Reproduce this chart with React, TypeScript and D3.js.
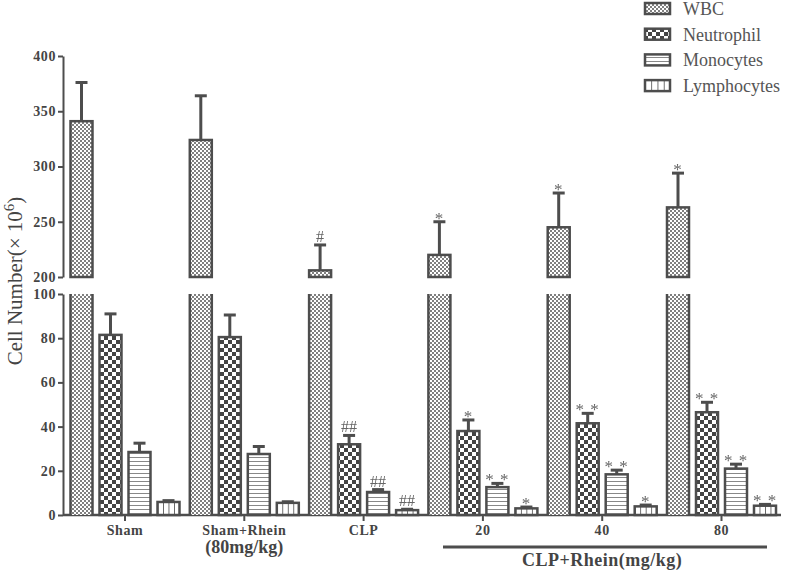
import React, { useEffect, useRef } from "react";
import * as d3 from "d3";

// data
const groups = ["Sham", "Sham+Rhein", "CLP", "20", "40", "80"];
const series = ["WBC", "Neutrophil", "Monocytes", "Lymphocytes"];
const wbcMean = [341, 324, 206, 220, 245, 263];
const wbcErr = [35, 40, 23, 30, 31, 31];
const neuMean = [81.5, 80.5, 32, 38, 41.5, 46.5];
const neuErr = [9.5, 10, 4, 5, 4.5, 4.5];
const monoMean = [28.5, 27.6, 10.4, 12.6, 18.4, 21];
const monoErr = [4, 3.4, 1.1, 1.7, 1.9, 2];
const lymMean = [5.9, 5.5, 2.2, 3, 3.9, 4.2];
const lymErr = [0.6, 0.5, 0.4, 0.6, 0.6, 0.6];
const wbcMarks = ["", "", "#", "*", "*", "*"];
const neuMarks = ["", "", "##", "*", "**", "**"];
const monoMarks = ["", "", "##", "**", "**", "**"];
const lymMarks = ["", "", "##", "*", "*", "**"];
const topTicks = [200, 250, 300, 350, 400];
const botTicks = [0, 20, 40, 60, 80, 100];

const W = 787;
const H = 571;
const INK = "#4d4d4d";
const SERIF = "'Liberation Serif', 'DejaVu Serif', serif";

const App = () => {
  const svgRef = useRef<SVGSVGElement>(null);

  useEffect(() => {
    const svg = d3.select(svgRef.current);
    svg.selectAll("*").remove();

    const axisX = 63;
    const yTop = d3.scaleLinear().domain([200, 400]).range([277, 56]);
    const yBot = d3.scaleLinear().domain([0, 100]).range([515, 294]);
    const xGroup = d3.scaleBand().domain(groups).range([65.35, 781.15]).padding(0);
    const xSeries = d3
      .scaleBand()
      .domain(series)
      .range([-54.5, 54.5])
      .paddingInner(7 / 29)
      .paddingOuter(0);
    const bw = xSeries.bandwidth();
    const cx = (g: string) => (xGroup(g) as number) + xGroup.bandwidth() / 2;

    // patterns
    const defs = svg.append("defs");
    const pW = defs.append("pattern").attr("id", "pWBC").attr("patternUnits", "userSpaceOnUse")
      .attr("width", 4).attr("height", 4);
    pW.append("rect").attr("width", 4).attr("height", 4).attr("fill", "#fff");
    pW.append("rect").attr("width", 2).attr("height", 2).attr("fill", "#808080");
    pW.append("rect").attr("x", 2).attr("y", 2).attr("width", 2).attr("height", 2).attr("fill", "#808080");

    const pN = defs.append("pattern").attr("id", "pNeu").attr("patternUnits", "userSpaceOnUse")
      .attr("width", 8).attr("height", 8);
    pN.append("rect").attr("width", 8).attr("height", 8).attr("fill", "#fff");
    pN.append("rect").attr("width", 4).attr("height", 4).attr("fill", "#444");
    pN.append("rect").attr("x", 4).attr("y", 4).attr("width", 4).attr("height", 4).attr("fill", "#444");

    const pM = defs.append("pattern").attr("id", "pMono").attr("patternUnits", "userSpaceOnUse")
      .attr("width", 4).attr("height", 4);
    pM.append("rect").attr("width", 4).attr("height", 4).attr("fill", "#fff");
    pM.append("rect").attr("y", 1).attr("width", 4).attr("height", 1).attr("fill", "#888");

    const pL = defs.append("pattern").attr("id", "pLym").attr("patternUnits", "objectBoundingBox")
      .attr("width", 0.25).attr("height", 1);
    pL.append("rect").attr("width", 40).attr("height", 600).attr("fill", "#fff");
    pL.append("rect").attr("x", -0.75).attr("width", 1.6).attr("height", 600).attr("fill", "#555");

    const fills = ["url(#pWBC)", "url(#pNeu)", "url(#pMono)", "url(#pLym)"];

    // y axes (broken)
    const styleAxis = (g: any) => {
      g.selectAll("path, line").attr("stroke", INK).attr("stroke-width", 2);
      g.selectAll("text")
        .attr("fill", "#444")
        .attr("font-family", SERIF)
        .attr("font-weight", "bold")
        .attr("font-size", 14)
        .attr("letter-spacing", 0.6);
    };
    svg.append("g").attr("transform", `translate(${axisX},0)`)
      .call(d3.axisLeft(yTop).tickValues(topTicks).tickSize(5).tickSizeOuter(0).tickPadding(2))
      .call(styleAxis);
    svg.append("g").attr("transform", `translate(${axisX},0)`)
      .call(d3.axisLeft(yBot).tickValues(botTicks).tickSize(5).tickSizeOuter(0).tickPadding(2))
      .call(styleAxis);

    // x axis
    const xa = svg.append("g").attr("transform", "translate(0,515)")
      .call(d3.axisBottom(xGroup).tickSize(6).tickSizeOuter(0).tickFormat(() => ""));
    xa.select(".domain").remove();
    xa.selectAll("line").attr("stroke", INK).attr("stroke-width", 2);
    svg.append("line").attr("x1", axisX).attr("x2", 781).attr("y1", 515).attr("y2", 515)
      .attr("stroke", INK).attr("stroke-width", 2.5);

    const bars = svg.append("g");
    const notes = svg.append("g").attr("font-family", SERIF).attr("fill", "#666")
      .style("filter", "grayscale(1)");

    const errBar = (x: number, yv: number, ye: number) => {
      bars.append("line").attr("x1", x).attr("x2", x).attr("y1", yv).attr("y2", ye)
        .attr("stroke", INK).attr("stroke-width", 3);
      bars.append("line").attr("x1", x - 6).attr("x2", x + 6).attr("y1", ye).attr("y2", ye)
        .attr("stroke", INK).attr("stroke-width", 3);
    };
    const note = (x: number, ye: number, s: string) => {
      if (!s) return;
      const star = s.startsWith("*");
      notes.append("text")
        .attr("x", x)
        .attr("y", star ? ye + 2 : ye - 3)
        .attr("text-anchor", "middle")
        .attr("font-size", star ? 17 : 16)
        .attr("letter-spacing", star ? 1 : 0)
        .text(star ? s.split("").join(" ") : s);
    };

    groups.forEach((g, i) => {
      const c = cx(g);
      // WBC, broken bar
      const xw = c + (xSeries("WBC") as number);
      bars.append("rect").attr("x", xw).attr("y", yBot(100)).attr("width", bw)
        .attr("height", yBot(0) - yBot(100)).attr("fill", fills[0]);
      [xw, xw + bw].forEach((lx) =>
        bars.append("line").attr("x1", lx).attr("x2", lx).attr("y1", yBot(100)).attr("y2", yBot(0))
          .attr("stroke", INK).attr("stroke-width", 2.5));
      bars.append("rect").attr("x", xw).attr("y", yTop(wbcMean[i])).attr("width", bw)
        .attr("height", yTop(200) - yTop(wbcMean[i])).attr("fill", fills[0])
        .attr("stroke", INK).attr("stroke-width", 2.5);
      errBar(xw + bw / 2, yTop(wbcMean[i]), yTop(wbcMean[i] + wbcErr[i]));
      note(xw + bw / 2, yTop(wbcMean[i] + wbcErr[i]), wbcMarks[i]);

      const rest = [
        { s: "Neutrophil", m: neuMean[i], e: neuErr[i], k: neuMarks[i], f: fills[1] },
        { s: "Monocytes", m: monoMean[i], e: monoErr[i], k: monoMarks[i], f: fills[2] },
        { s: "Lymphocytes", m: lymMean[i], e: lymErr[i], k: lymMarks[i], f: fills[3] },
      ];
      rest.forEach((d) => {
        const x = c + (xSeries(d.s) as number);
        bars.append("rect").attr("x", x).attr("y", yBot(d.m)).attr("width", bw)
          .attr("height", yBot(0) - yBot(d.m)).attr("fill", d.f)
          .attr("stroke", INK).attr("stroke-width", 2.5);
        errBar(x + bw / 2, yBot(d.m), yBot(d.m + d.e));
        note(x + bw / 2, yBot(d.m + d.e), d.k);
      });
    });

    // x labels
    const lab = svg.append("g").attr("font-family", SERIF).attr("font-weight", "bold")
      .attr("fill", "#444").attr("text-anchor", "middle");
    groups.forEach((g) => {
      lab.append("text").attr("x", cx(g)).attr("y", 535).attr("font-size", 14)
        .attr("letter-spacing", 0.6).text(g);
    });
    lab.append("text").attr("x", cx("Sham+Rhein")).attr("y", 553).attr("font-size", 18)
      .text("(80mg/kg)");
    svg.append("line").attr("x1", 443).attr("x2", 767).attr("y1", 547).attr("y2", 547)
      .attr("stroke", INK).attr("stroke-width", 3);
    lab.append("text").attr("x", (cx("20") + cx("80")) / 2).attr("y", 566).attr("font-size", 18)
      .attr("letter-spacing", 0.5).text("CLP+Rhein(mg/kg)");

    // y title
    const yt = svg.append("text")
      .attr("transform", "translate(22,281) rotate(-90)")
      .attr("text-anchor", "middle")
      .attr("font-family", SERIF)
      .attr("font-size", 21)
      .attr("fill", "#444");
    yt.append("tspan").text("Cell Number(× 10");
    yt.append("tspan").attr("dy", -8).attr("font-size", 15).text("6");
    yt.append("tspan").attr("dy", 8).text(")");

    // legend
    const leg = svg.append("g");
    series.forEach((s, i) => {
      const y = 3 + i * 25.7;
      leg.append("rect").attr("x", 645).attr("y", y).attr("width", 25).attr("height", 11)
        .attr("fill", fills[i]).attr("stroke", INK).attr("stroke-width", 2.5);
      leg.append("text").attr("x", 683).attr("y", y + 12).attr("font-family", SERIF)
        .attr("font-size", 18).attr("fill", "#555").text(s);
    });
  }, []);

  return (
    <svg
      ref={svgRef}
      width={W}
      height={H}
      style={{ position: "absolute", left: 0, top: 0, background: "#fff" }}
    />
  );
};

export default App;
